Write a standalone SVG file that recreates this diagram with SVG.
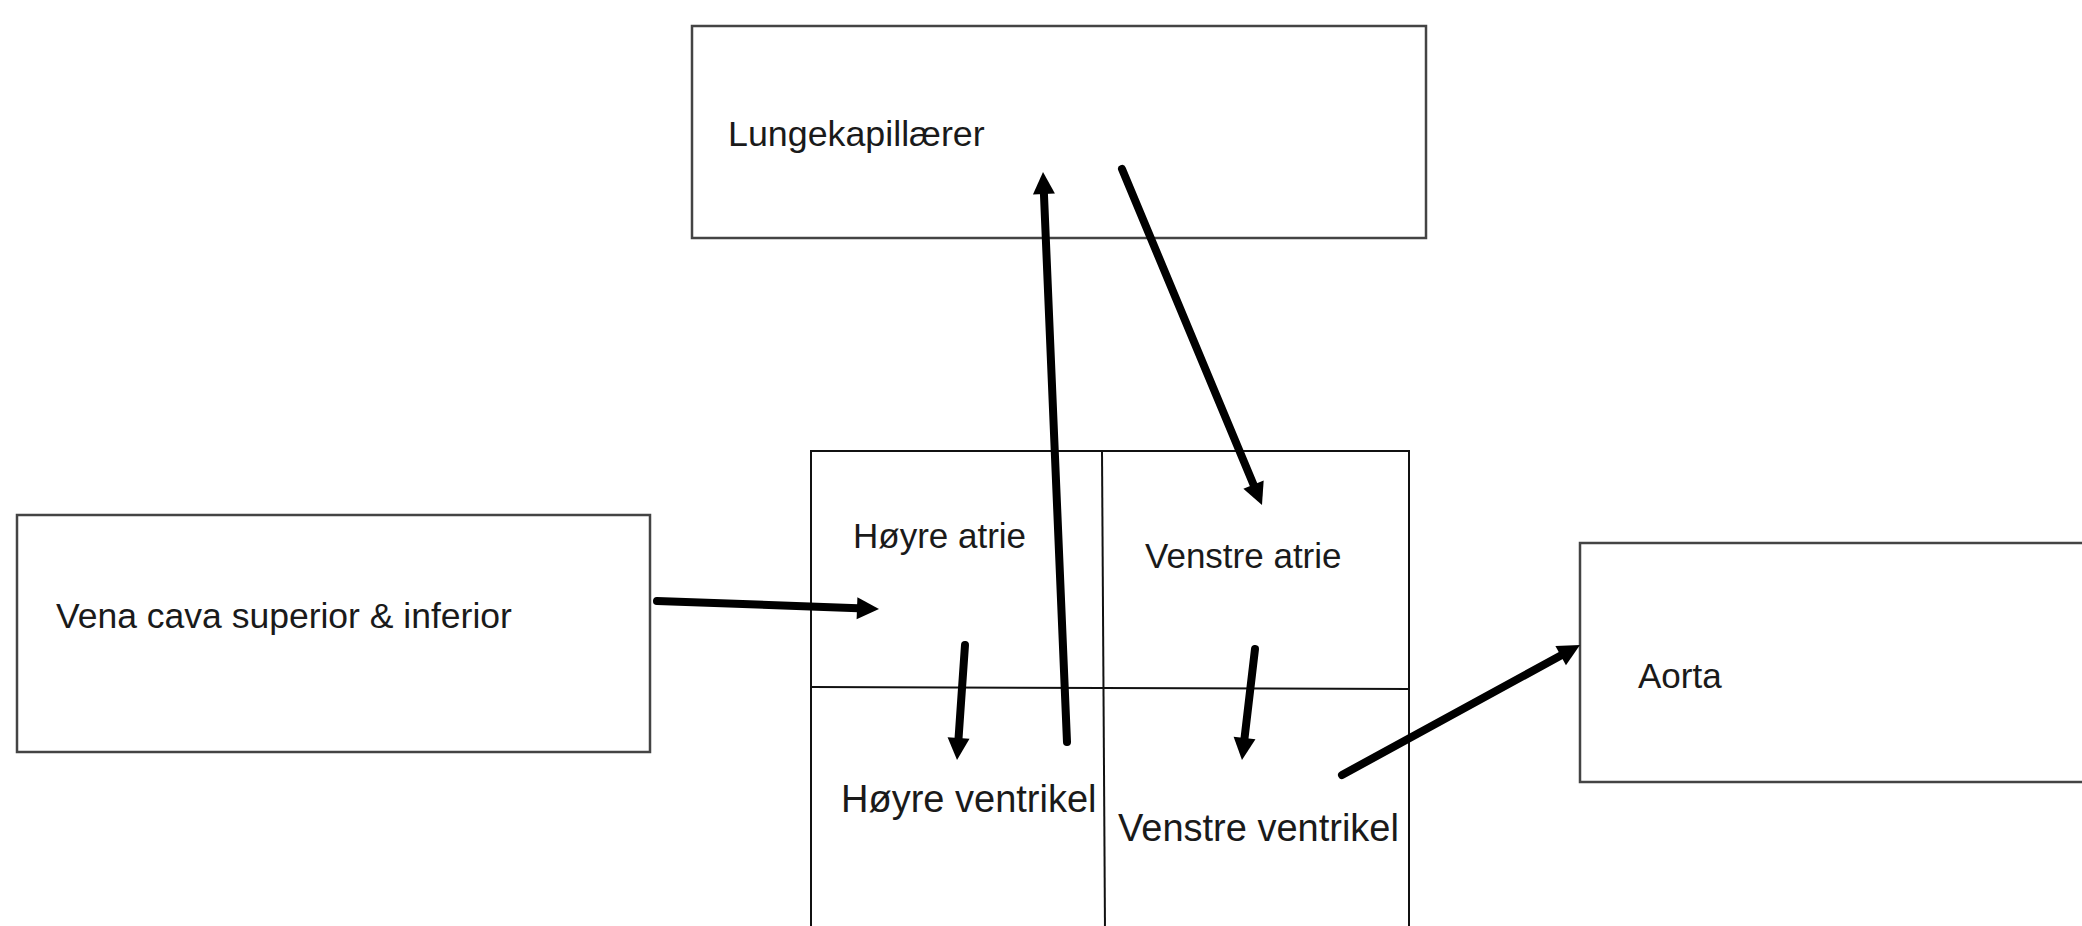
<svg xmlns="http://www.w3.org/2000/svg" width="2082" height="926" viewBox="0 0 2082 926">
<defs>
<style>
.box{fill:#fff;stroke:#444;stroke-width:2.5}
.heart{fill:none;stroke:#111;stroke-width:2}
.lbl{font-family:"Liberation Sans",Arial,sans-serif;font-size:35px;fill:#1a1a1a}
.big{font-size:38px}
.arr{stroke:#000;stroke-width:8;stroke-linecap:round;fill:none;marker-end:url(#ah)}
</style>
<marker id="ah" markerUnits="userSpaceOnUse" markerWidth="22" markerHeight="22" viewBox="0 0 22 22" refX="8" refY="11" orient="auto" overflow="visible">
<path d="M0,0 L22,11 L0,22 z" fill="#000"/>
</marker>
</defs>
<rect width="2082" height="926" fill="#fff"/>
<g id="lungekapillaerer">
<rect class="box" x="692" y="26" width="734" height="212"/>
<text class="lbl" x="728" y="146" style="font-size:35.8px">Lungekapillærer</text>
</g>
<g id="vena-cava">
<rect class="box" x="17" y="515" width="633" height="237"/>
<text class="lbl" x="56" y="628" style="font-size:35.5px">Vena cava superior &amp; inferior</text>
</g>
<g id="aorta">
<rect class="box" x="1580" y="543" width="520" height="239"/>
<text class="lbl" x="1638" y="688">Aorta</text>
</g>
<g id="heart">
<rect class="heart" x="811" y="451" width="598" height="500"/>
<line class="heart" x1="1102" y1="451" x2="1105" y2="930"/>
<line class="heart" x1="811" y1="687" x2="1409" y2="689"/>
</g>
<g id="hoyre-atrie"><text class="lbl" x="853" y="548">Høyre atrie</text></g>
<g id="venstre-atrie"><text class="lbl" x="1145" y="568">Venstre atrie</text></g>
<g id="hoyre-ventrikel"><text class="lbl big" x="841" y="812">Høyre ventrikel</text></g>
<g id="venstre-ventrikel"><text class="lbl big" x="1118" y="841">Venstre ventrikel</text></g>
<g id="connectors">
<line class="arr" x1="657" y1="601" x2="865" y2="608.5"/>
<line class="arr" x1="965" y1="645" x2="958" y2="746"/>
<line class="arr" x1="1067" y1="742" x2="1043.6" y2="186"/>
<line class="arr" x1="1122" y1="169" x2="1256.6" y2="492"/>
<line class="arr" x1="1255" y1="649" x2="1243.6" y2="746"/>
<line class="arr" x1="1342" y1="775" x2="1567.7" y2="651.7"/>
</g>
</svg>
